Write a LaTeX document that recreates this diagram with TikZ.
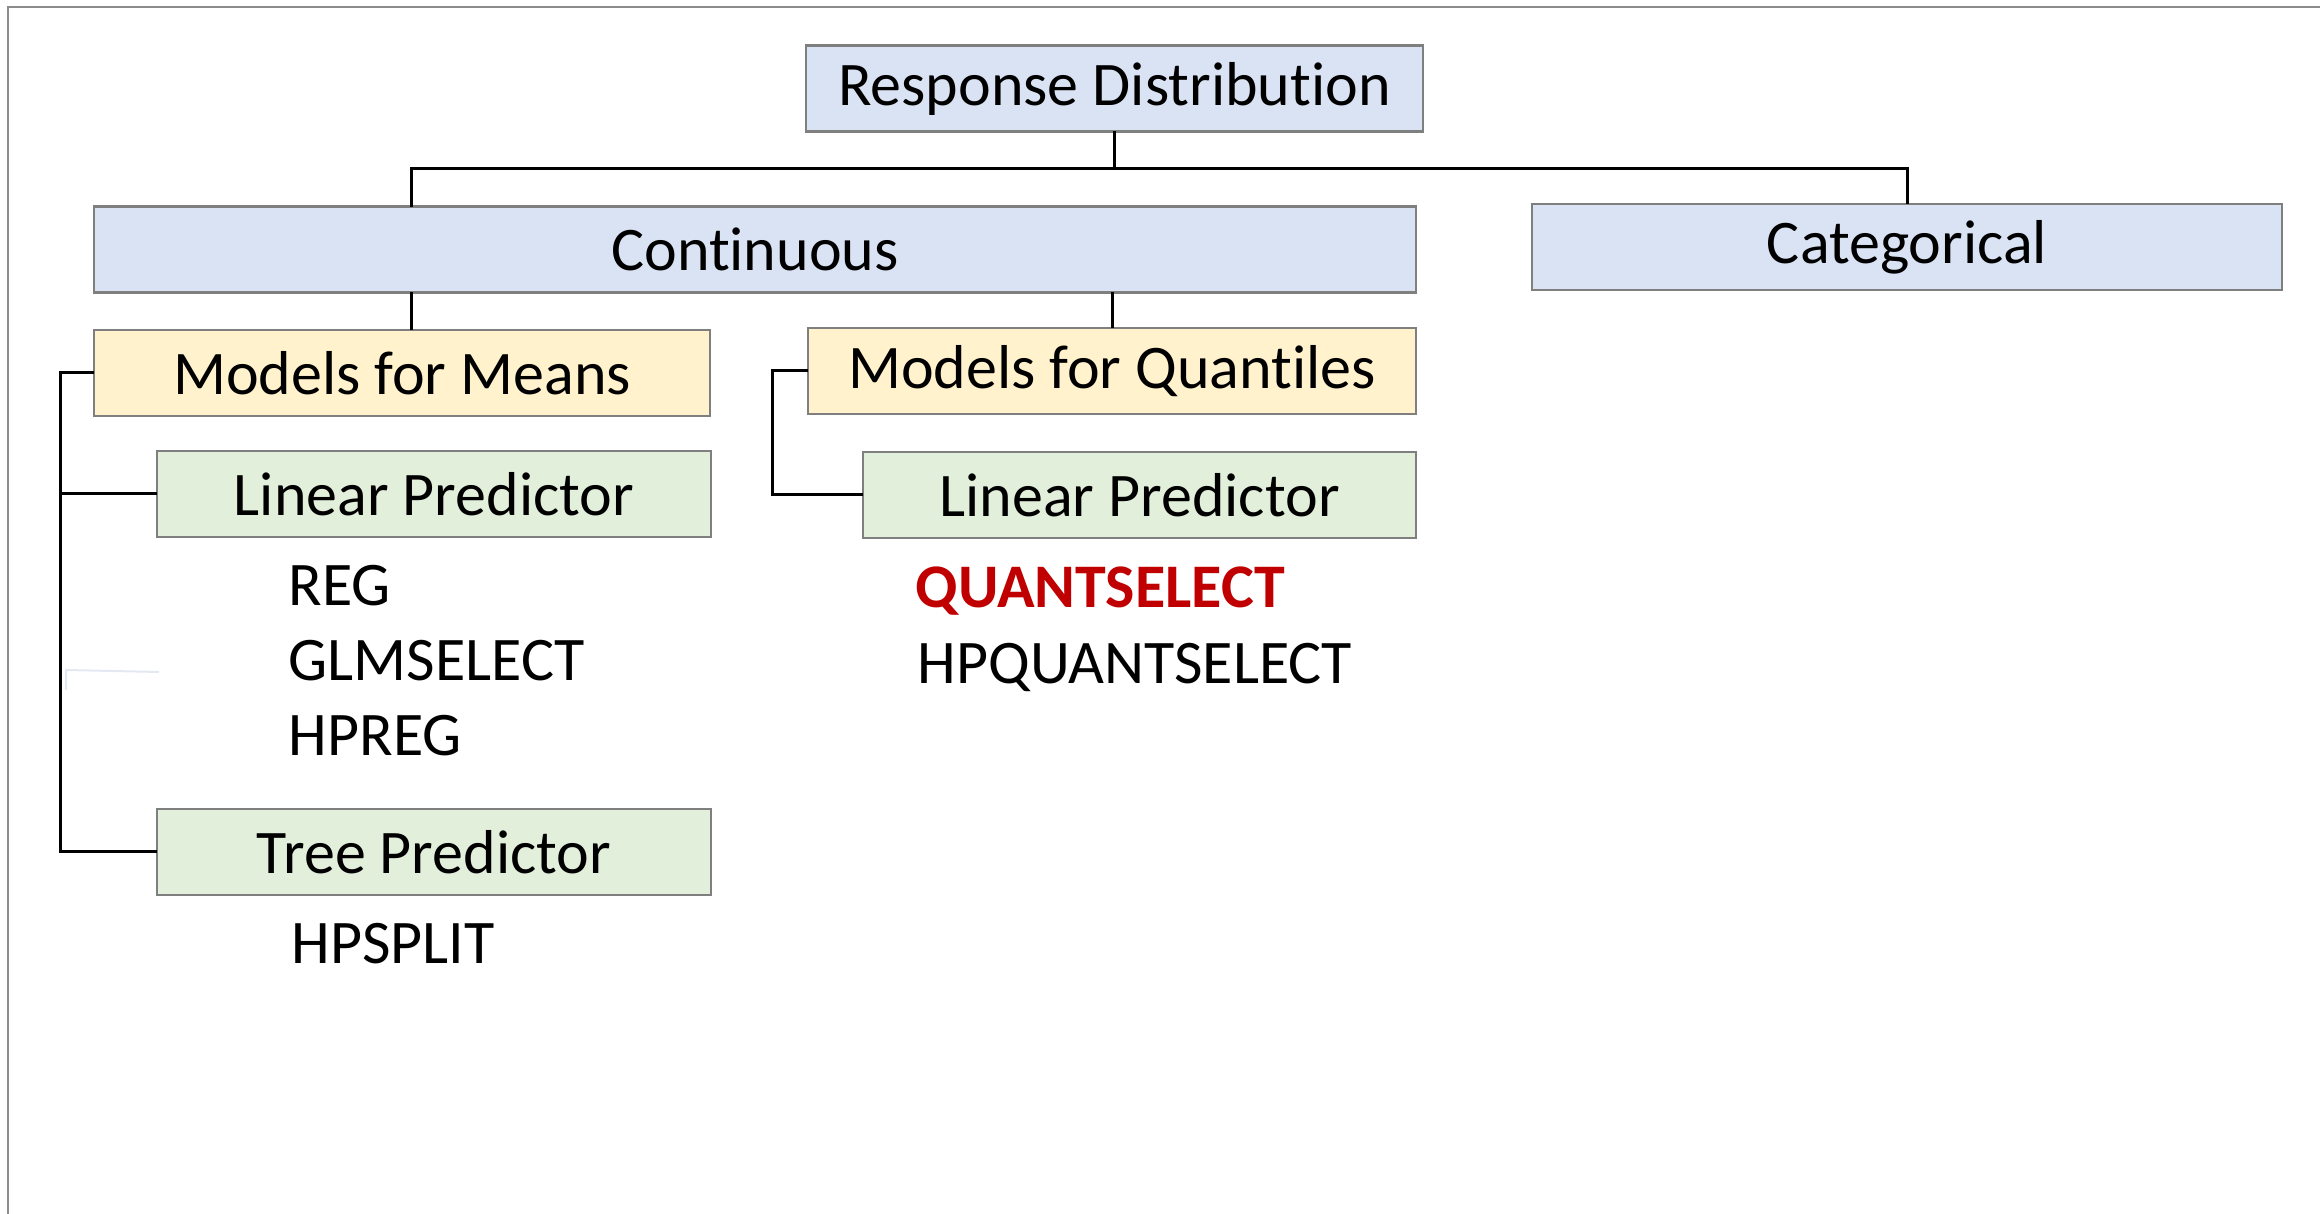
\documentclass[tikz,border=0pt]{standalone}
\usepackage{fontspec}
\setmainfont{Carlito}[Ligatures={NoCommon,NoRare,NoDiscretionary}]
\definecolor{boxline}{HTML}{7F7F7F}
\definecolor{fblue}{HTML}{DAE3F3}
\definecolor{fyellow}{HTML}{FFF2CC}
\definecolor{fgreen}{HTML}{E2EFDA}
\definecolor{qred}{HTML}{C00000}
\definecolor{faint}{HTML}{E4E8F2}
\definecolor{framegray}{HTML}{8C8C8C}
\tikzset{
  boxnode/.style={draw=boxline, line width=0.8pt, rectangle, inner sep=0pt,
    minimum height=25.8pt, font=\fontsize{18.6}{22}\selectfont, text=black},
  bluebox/.style={boxnode, fill=fblue},
  yellowbox/.style={boxnode, fill=fyellow},
  greenbox/.style={boxnode, fill=fgreen},
  conn/.style={draw=black, line width=0.9pt, line cap=rect},
  listtext/.style={anchor=base west, inner sep=0pt, font=\fontsize{18.6}{22}\selectfont, text=black},
}
\begin{document}
\begin{tikzpicture}[x=0.3pt, y=-0.3pt]
\useasboundingbox (0,0) rectangle (2320,1214);
% frame
\draw[framegray, line width=0.6pt] (8,1214) -- (8,7) -- (2320,7);
% boxes
\node[bluebox, minimum width=185.1pt] (rd) at (1114.5,88.5) {Response Distribution};
\node[bluebox, minimum width=396.6pt] (cont) at (755,249.5) {Continuous};
\node[bluebox, minimum width=225pt] (cat) at (1907,247) {Categorical};
\node[yellowbox, minimum width=184.8pt] (mfm) at (402,373) {Models for Means};
\node[yellowbox, minimum width=182.4pt] (mfq) at (1112,371) {Models for Quantiles};
\node[greenbox, minimum width=166.2pt] (lpm) at (434,494) {Linear Predictor};
\node[greenbox, minimum width=165.9pt] (lpq) at (1139.5,495) {Linear Predictor};
\node[greenbox, minimum width=166.2pt] (tp) at (434,852) {Tree Predictor};
% lists
\node[listtext] (reg) at (288,606) {REG};
\node[listtext] (glm) at (288,681) {GLMSELECT};
\node[listtext] (hpreg) at (288,756) {HPREG};
\node[listtext] (hpsplit) at (291,964) {HPSPLIT};
\node[listtext, text=qred, font=\fontsize{18.6}{22}\selectfont\bfseries] (qs) at (915,608) {QUANTSELECT};
\node[listtext] (hpqs) at (917,684) {HPQUANTSELECT};
% connector coordinates
\coordinate (busL) at (411,169);
\coordinate (busR) at (1907,169);
\coordinate (mb) at (60,0);
\coordinate (qb) at (772,0);
\coordinate (fa) at (66,670);
\coordinate (fb) at (159,672);
\coordinate (fc) at (66,690);
% connectors
\draw[conn] (rd.south) -- (rd.south |- busL);
\draw[conn] (cont.north -| busL) -- (busL) -- (busR) -- (cat.north);
\draw[conn] (cont.south -| busL) -- (mfm.north -| busL);
\draw[conn] (mfq.north) -- (mfq.north |- cont.south);
\draw[conn] (mfm.west) -- (mfm.west -| mb) -- (tp.west -| mb) -- (tp.west);
\draw[conn] (lpm.west -| mb) -- (lpm.west);
\draw[conn] (mfq.west) -- (mfq.west -| qb) -- (lpq.west -| qb) -- (lpq.west);
% faint stray mark
\draw[faint, line width=0.6pt] (fc) -- (fa) -- (fb);
\end{tikzpicture}
\end{document}
